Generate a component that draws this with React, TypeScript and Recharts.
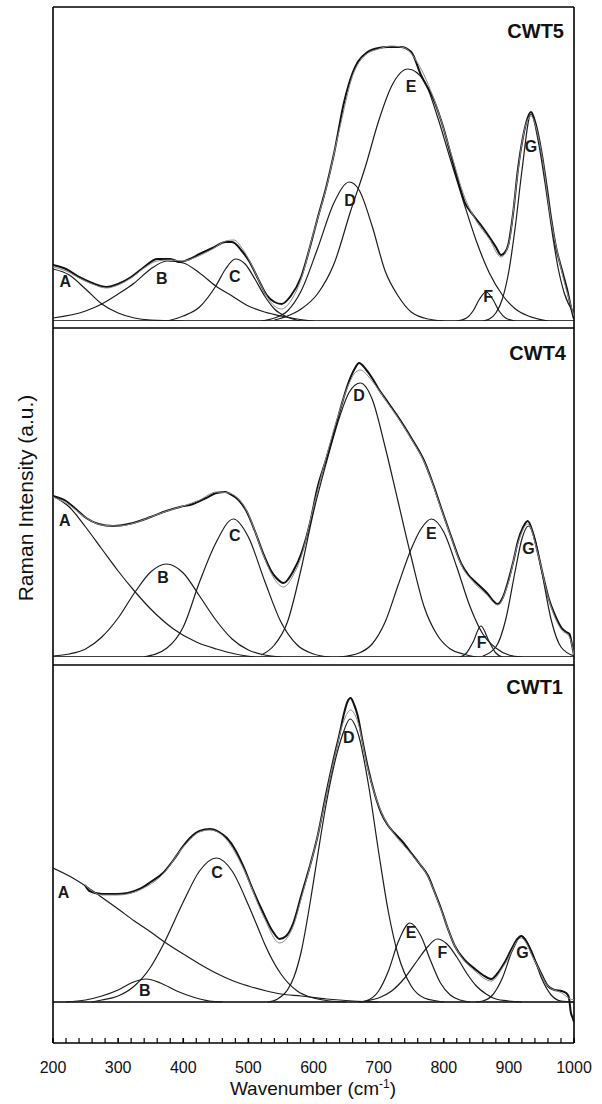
import React from "react";
import {
  LineChart,
  Line,
  XAxis,
  YAxis,
  ReferenceLine,
  ReferenceDot,
} from "recharts";

const FONT = '"Liberation Sans", Arial, Helvetica, sans-serif';

// x axis: wavenumber (cm-1)
const majorTicks = [200, 300, 400, 500, 600, 700, 800, 900, 1000];
const peakNames = ["A", "B", "C", "D", "E", "F", "G"];

// ---- CWT5 (top) : [wavenumber, intensity] ----
const cwt5Spectrum = [
  [200, 56], [220, 52], [240, 44], [260, 38], [282, 34], [300, 37], [320, 44], [340, 54],
  [360, 62], [380, 62], [395, 59], [410, 62], [425, 67], [445, 73], [465, 79], [475, 79],
  [490, 70], [502, 59], [515, 42], [528, 26], [540, 19], [551, 17], [565, 25], [581, 44],
  [595, 75], [606, 102], [620, 135], [632, 169], [647, 219], [660, 248], [668, 259], [683, 269],
  [700, 273], [714, 274], [734, 274], [750, 269], [765, 246], [786, 219], [800, 192], [811, 166],
  [822, 140], [832, 119], [845, 106], [857, 96], [870, 84], [880, 74], [888, 66], [893, 68],
  [899, 76], [906, 105], [914, 152], [922, 185], [934, 209], [942, 195], [950, 169], [958, 135],
  [965, 102], [972, 75], [981, 52], [990, 30], [996, 12], [1000, 2],
];
const cwt5Fit = [
  [200, 54], [220, 50], [240, 43], [260, 37], [282, 33], [300, 36], [320, 43], [340, 53],
  [360, 60], [380, 61], [400, 60], [420, 64], [445, 72], [465, 80], [478, 81], [490, 73],
  [502, 60], [515, 42], [528, 25], [540, 15], [551, 12], [565, 20], [581, 42], [600, 88],
  [620, 134], [640, 192], [660, 245], [680, 266], [700, 272], [720, 275], [740, 273], [760, 258],
  [786, 220], [811, 168], [832, 124], [850, 100], [870, 82], [888, 64], [899, 75], [914, 150],
  [922, 185], [934, 205], [942, 193], [950, 168], [965, 100], [981, 50], [1000, 5],
];
const cwt5A = [[200, 52], [225, 46], [250, 32], [275, 17], [300, 8], [325, 3], [350, 1], [400, 0]];
const cwt5B = [
  [200, 3], [250, 10], [275, 17], [300, 27], [325, 38], [350, 52], [375, 60], [400, 58],
  [425, 48], [450, 35], [475, 25], [500, 15], [525, 9], [550, 5], [575, 2], [600, 0],
];
const cwt5C = [
  [375, 0], [400, 5], [425, 14], [450, 35], [465, 52], [480, 62], [495, 57], [510, 42],
  [525, 25], [540, 12], [560, 4], [580, 0],
];
const cwt5D = [
  [520, 0], [540, 3], [560, 10], [581, 30], [606, 72], [632, 119], [655, 139], [670, 131],
  [690, 95], [710, 50], [730, 25], [750, 9], [770, 3], [800, 0],
];
const cwt5E = [
  [540, 1], [560, 5], [581, 12], [606, 27], [632, 58], [657, 110], [680, 155], [700, 200],
  [720, 235], [745, 252], [770, 240], [790, 205], [810, 162], [830, 120], [850, 80], [870, 48],
  [890, 26], [910, 12], [930, 5], [960, 0],
];
const cwt5F = [[820, 0], [835, 3], [845, 10], [855, 22], [865, 29], [875, 22], [885, 10], [895, 3], [910, 0]];
const cwt5G = [
  [860, 0], [870, 2], [880, 8], [890, 22], [900, 50], [910, 95], [920, 150], [934, 207],
  [945, 180], [955, 140], [965, 95], [975, 55], [985, 28], [1000, 8],
];
const cwt5LabelAt = [[219, 40], [367, 43], [479, 45], [656, 121], [750, 235], [868, 25], [934, 175]];

// ---- CWT4 (middle) ----
const cwt4Spectrum = [
  [200, 161], [220, 156], [235, 148], [251, 139], [270, 133], [292, 131], [323, 134], [350, 140],
  [374, 146], [395, 150], [415, 153], [435, 159], [451, 164], [465, 165], [472, 163], [485, 157],
  [497, 146], [510, 126], [523, 103], [535, 86], [543, 79], [554, 74], [569, 86], [581, 103],
  [595, 135], [606, 169], [620, 199], [632, 226], [643, 252], [653, 273], [663, 288], [670, 294],
  [680, 288], [690, 279], [699, 269], [715, 254], [734, 236], [752, 217], [770, 196], [783, 174],
  [796, 149], [811, 121], [827, 93], [838, 82], [847, 76], [865, 65], [883, 53], [891, 60],
  [899, 76], [907, 96], [914, 116], [922, 130], [929, 136], [937, 124], [945, 103], [953, 80],
  [961, 59], [970, 43], [981, 29], [988, 25], [993, 23], [997, 12], [1000, 2],
];
const cwt4Fit = [
  [200, 160], [225, 152], [251, 139], [275, 132], [300, 131], [325, 134], [350, 140], [375, 146],
  [400, 151], [425, 157], [451, 165], [470, 164], [485, 158], [497, 147], [510, 126], [523, 102],
  [540, 78], [554, 70], [569, 82], [581, 100], [600, 150], [620, 201], [640, 246], [655, 274],
  [665, 285], [672, 287], [685, 280], [699, 268], [715, 253], [734, 235], [752, 216], [770, 195],
  [796, 148], [811, 120], [827, 92], [847, 74], [865, 63], [883, 52], [899, 74], [914, 114],
  [929, 133], [945, 102], [961, 58], [981, 27], [993, 20], [1000, 2],
];
const cwt4A = [
  [200, 161], [225, 150], [250, 130], [275, 108], [300, 86], [325, 66], [350, 48], [385, 28],
  [420, 15], [451, 8], [480, 3], [510, 0],
];
const cwt4B = [
  [200, 1], [225, 3], [250, 8], [275, 20], [300, 39], [325, 64], [350, 85], [374, 93],
  [400, 84], [425, 61], [450, 37], [475, 18], [500, 7], [525, 2], [550, 0],
];
const cwt4C = [
  [340, 0], [375, 9], [400, 30], [425, 75], [450, 114], [477, 138], [500, 120], [525, 76],
  [550, 35], [575, 12], [600, 3], [625, 0],
];
const cwt4D = [
  [520, 2], [540, 12], [560, 35], [581, 88], [600, 145], [620, 195], [640, 240], [655, 265],
  [672, 274], [690, 258], [710, 210], [730, 155], [750, 100], [770, 50], [790, 22], [810, 8],
  [830, 3], [850, 0],
];
const cwt4E = [
  [640, 0], [670, 4], [690, 13], [710, 35], [730, 72], [750, 108], [765, 128], [781, 138],
  [800, 125], [820, 90], [840, 51], [860, 23], [880, 9], [900, 2], [920, 0],
];
const cwt4F = [[825, 0], [835, 4], [845, 15], [857, 31], [870, 15], [880, 4], [890, 0]];
const cwt4G = [
  [860, 1], [880, 10], [895, 37], [910, 87], [920, 118], [930, 131], [940, 118], [950, 87],
  [965, 37], [980, 10], [1000, 1],
];
const cwt4LabelAt = [[218, 137], [369, 80], [479, 122], [670, 262], [781, 124], [858, 15], [930, 109]];

// ---- CWT1 (bottom) ----
const cwt1Spectrum = [
  [249, 117], [256, 111], [275, 108], [297, 108], [315, 109], [333, 113], [350, 120], [369, 129],
  [385, 142], [400, 156], [412, 165], [425, 171], [441, 173], [455, 170], [467, 164], [480, 152],
  [492, 136], [507, 112], [523, 89], [537, 71], [548, 63], [558, 66], [569, 79], [581, 106],
  [594, 135], [606, 165], [620, 210], [632, 246], [640, 268], [647, 289], [652, 300], [657, 304],
  [662, 298], [668, 286], [675, 262], [683, 236], [694, 208], [704, 189], [714, 177], [724, 169],
  [737, 160], [750, 149], [763, 138], [776, 126], [786, 110], [796, 93], [806, 74], [817, 56],
  [832, 42], [848, 33], [860, 27], [873, 23], [883, 29], [893, 39], [905, 54], [913, 63],
  [919, 66], [927, 60], [939, 43], [950, 28], [960, 16], [970, 12], [981, 11], [988, 9],
  [992, 5], [995, -10], [998, -16], [1000, -20],
];
const cwt1Fit = [
  [249, 117], [275, 107], [300, 107], [333, 112], [369, 128], [400, 155], [425, 170], [441, 172],
  [467, 162], [492, 134], [523, 86], [548, 59], [569, 76], [581, 103], [606, 165], [632, 244],
  [647, 282], [657, 292], [668, 280], [683, 234], [704, 190], [724, 168], [750, 148], [776, 125],
  [796, 92], [817, 56], [848, 31], [873, 21], [893, 37], [919, 64], [939, 42], [960, 16],
  [981, 9], [995, 3], [1000, 2],
];
const cwt1A = [
  [200, 134], [225, 126], [250, 116], [272, 106], [300, 93], [325, 81], [350, 70], [369, 61],
  [400, 48], [425, 38], [450, 29], [477, 21], [500, 16], [528, 11], [550, 8], [581, 6],
  [620, 3], [660, 1], [700, 0],
];
const cwt1B = [
  [220, 0], [250, 2], [275, 6], [300, 12], [320, 19], [343, 23], [365, 19], [390, 11],
  [415, 5], [440, 1], [460, 0],
];
const cwt1C = [
  [260, 0], [275, 2], [300, 6], [325, 16], [350, 35], [369, 57], [400, 100], [425, 131],
  [451, 144], [475, 131], [500, 97], [518, 69], [525, 58], [550, 28], [575, 11], [600, 4],
  [625, 1], [650, 0],
];
const cwt1D = [
  [530, 0], [545, 3], [560, 12], [570, 25], [581, 50], [595, 100], [606, 145], [620, 200],
  [632, 238], [645, 268], [656, 283], [670, 265], [685, 215], [700, 150], [715, 90], [730, 47],
  [750, 16], [770, 4], [790, 1], [800, 0],
];
const cwt1E = [
  [670, 0], [680, 1], [700, 11], [715, 31], [730, 60], [748, 79], [765, 66], [780, 41],
  [795, 19], [810, 7], [825, 2], [840, 0],
];
const cwt1F = [
  [670, 0], [680, 1], [700, 4], [720, 11], [740, 24], [760, 42], [775, 55], [790, 63],
  [805, 58], [820, 45], [835, 29], [850, 16], [865, 8], [880, 3], [900, 1], [920, 0],
];
const cwt1G = [
  [850, 0], [860, 1], [875, 7], [890, 24], [905, 51], [920, 66], [935, 51], [950, 24],
  [965, 7], [980, 1], [1000, 0],
];
const cwt1LabelAt = [[216, 110], [341, 12], [452, 130], [654, 265], [750, 70], [798, 50], [921, 50]];

const toRows = (pts: number[][]) => pts.map(([x, y]) => ({ x, y }));

// all ticks every 20 cm-1, labelled every 100
const allTicks: number[] = [];
majorTicks.forEach((t, i) => {
  allTicks.push(t);
  if (i < majorTicks.length - 1) for (let k = 1; k < 5; k++) allTicks.push(t + k * 20);
});

const renderWaveTick = (props: any) => {
  const { x, y, payload, index } = props;
  const major = payload.value % 100 === 0;
  return (
    <g key={"t" + index}>
      <line x1={x} x2={x} y1={y} y2={y - 5} stroke="#000" strokeWidth={major ? 1.6 : 1.2} />
      {major && (
        <text x={x} y={y + 30} textAnchor="middle" fontSize={16} fontFamily={FONT} fill="#111">
          {payload.value}
        </text>
      )}
    </g>
  );
};

interface PanelProps {
  top: number;
  height: number;
  marginTop: number;
  marginBottom: number;
  yDomain: [number, number];
  topLine: number;
  spectrum: number[][];
  fit: number[][];
  peaks: number[][][];
  labelAt: number[][];
  showAxis?: boolean;
}

function Panel({
  top,
  height,
  marginTop,
  marginBottom,
  yDomain,
  topLine,
  spectrum,
  fit,
  peaks,
  labelAt,
  showAxis,
}: PanelProps) {
  const frame = { stroke: "#000", strokeWidth: 1.6 };
  return (
    <div style={{ position: "absolute", left: 0, top }}>
      <LineChart
        width={602}
        height={height}
        margin={{ top: marginTop, right: 28, bottom: marginBottom, left: 53 }}
      >
        <XAxis
          type="number"
          dataKey="x"
          domain={[200, 1000]}
          allowDataOverflow
          hide={!showAxis}
          height={40}
          ticks={allTicks}
          interval={0}
          tick={renderWaveTick}
          tickLine={false}
          tickSize={0}
          tickMargin={0}
          axisLine={frame}
        />
        <YAxis type="number" domain={yDomain} allowDataOverflow hide />
        <ReferenceLine y={topLine} {...frame} />
        <ReferenceLine y={0} {...frame} />
        <ReferenceLine x={200} {...frame} />
        <ReferenceLine x={1000} {...frame} />
        {peaks.map((p, i) => (
          <Line
            key={peakNames[i]}
            data={toRows(p)}
            dataKey="y"
            type="monotone"
            dot={false}
            stroke="#1c1c1c"
            strokeWidth={1.2}
            isAnimationActive={false}
          />
        ))}
        <Line
          data={toRows(spectrum)}
          dataKey="y"
          type="monotone"
          dot={false}
          stroke="#111"
          strokeWidth={2}
          isAnimationActive={false}
        />
        <Line
          data={toRows(fit)}
          dataKey="y"
          type="monotone"
          dot={false}
          stroke="#8a8a8a"
          strokeWidth={1}
          isAnimationActive={false}
        />
        {labelAt.map(([x, y], i) => (
          <ReferenceDot
            key={"l" + i}
            x={x}
            y={y}
            r={0}
            fill="none"
            stroke="none"
            label={{
              value: peakNames[i],
              position: "center",
              fontSize: 16,
              fontWeight: 700,
              fontFamily: FONT,
              fill: "#1a1a1a",
            }}
          />
        ))}
      </LineChart>
    </div>
  );
}

export default function App() {
  return (
    <div
      style={{
        position: "absolute",
        left: 0,
        top: 0,
        width: 602,
        height: 1104,
        background: "#fff",
        fontFamily: FONT,
      }}
    >
      <Panel
        top={0}
        height={321}
        marginTop={7}
        marginBottom={0}
        yDomain={[0, 314]}
        topLine={314}
        spectrum={cwt5Spectrum}
        fit={cwt5Fit}
        peaks={[cwt5A, cwt5B, cwt5C, cwt5D, cwt5E, cwt5F, cwt5G]}
        labelAt={cwt5LabelAt}
      />
      <Panel
        top={321}
        height={336}
        marginTop={0}
        marginBottom={0}
        yDomain={[0, 336]}
        topLine={329}
        spectrum={cwt4Spectrum}
        fit={cwt4Fit}
        peaks={[cwt4A, cwt4B, cwt4C, cwt4D, cwt4E, cwt4F, cwt4G]}
        labelAt={cwt4LabelAt}
      />
      <Panel
        top={657}
        height={447}
        marginTop={0}
        marginBottom={21}
        yDomain={[-41, 345]}
        topLine={337}
        spectrum={cwt1Spectrum}
        fit={cwt1Fit}
        peaks={[cwt1A, cwt1B, cwt1C, cwt1D, cwt1E, cwt1F, cwt1G]}
        labelAt={cwt1LabelAt}
        showAxis
      />
      <svg
        width={602}
        height={1104}
        style={{ position: "absolute", left: 0, top: 0, pointerEvents: "none" }}
      >
        <g fontFamily={FONT} fontWeight={700} fontSize={20} fill="#111" textAnchor="end">
          <text x={564} y={38}>CWT5</text>
          <text x={566} y={360}>CWT4</text>
          <text x={563} y={694}>CWT1</text>
        </g>
        <text
          transform="translate(33,498) rotate(-90)"
          textAnchor="middle"
          fontFamily={FONT}
          fontSize={21}
          fill="#111"
        >
          Raman Intensity (a.u.)
        </text>
        <text x={313} y={1095} textAnchor="middle" fontFamily={FONT} fontSize={19} fill="#111">
          Wavenumber (cm
          <tspan dy={-7} fontSize={12}>-1</tspan>
          <tspan dy={7}>)</tspan>
        </text>
      </svg>
    </div>
  );
}
